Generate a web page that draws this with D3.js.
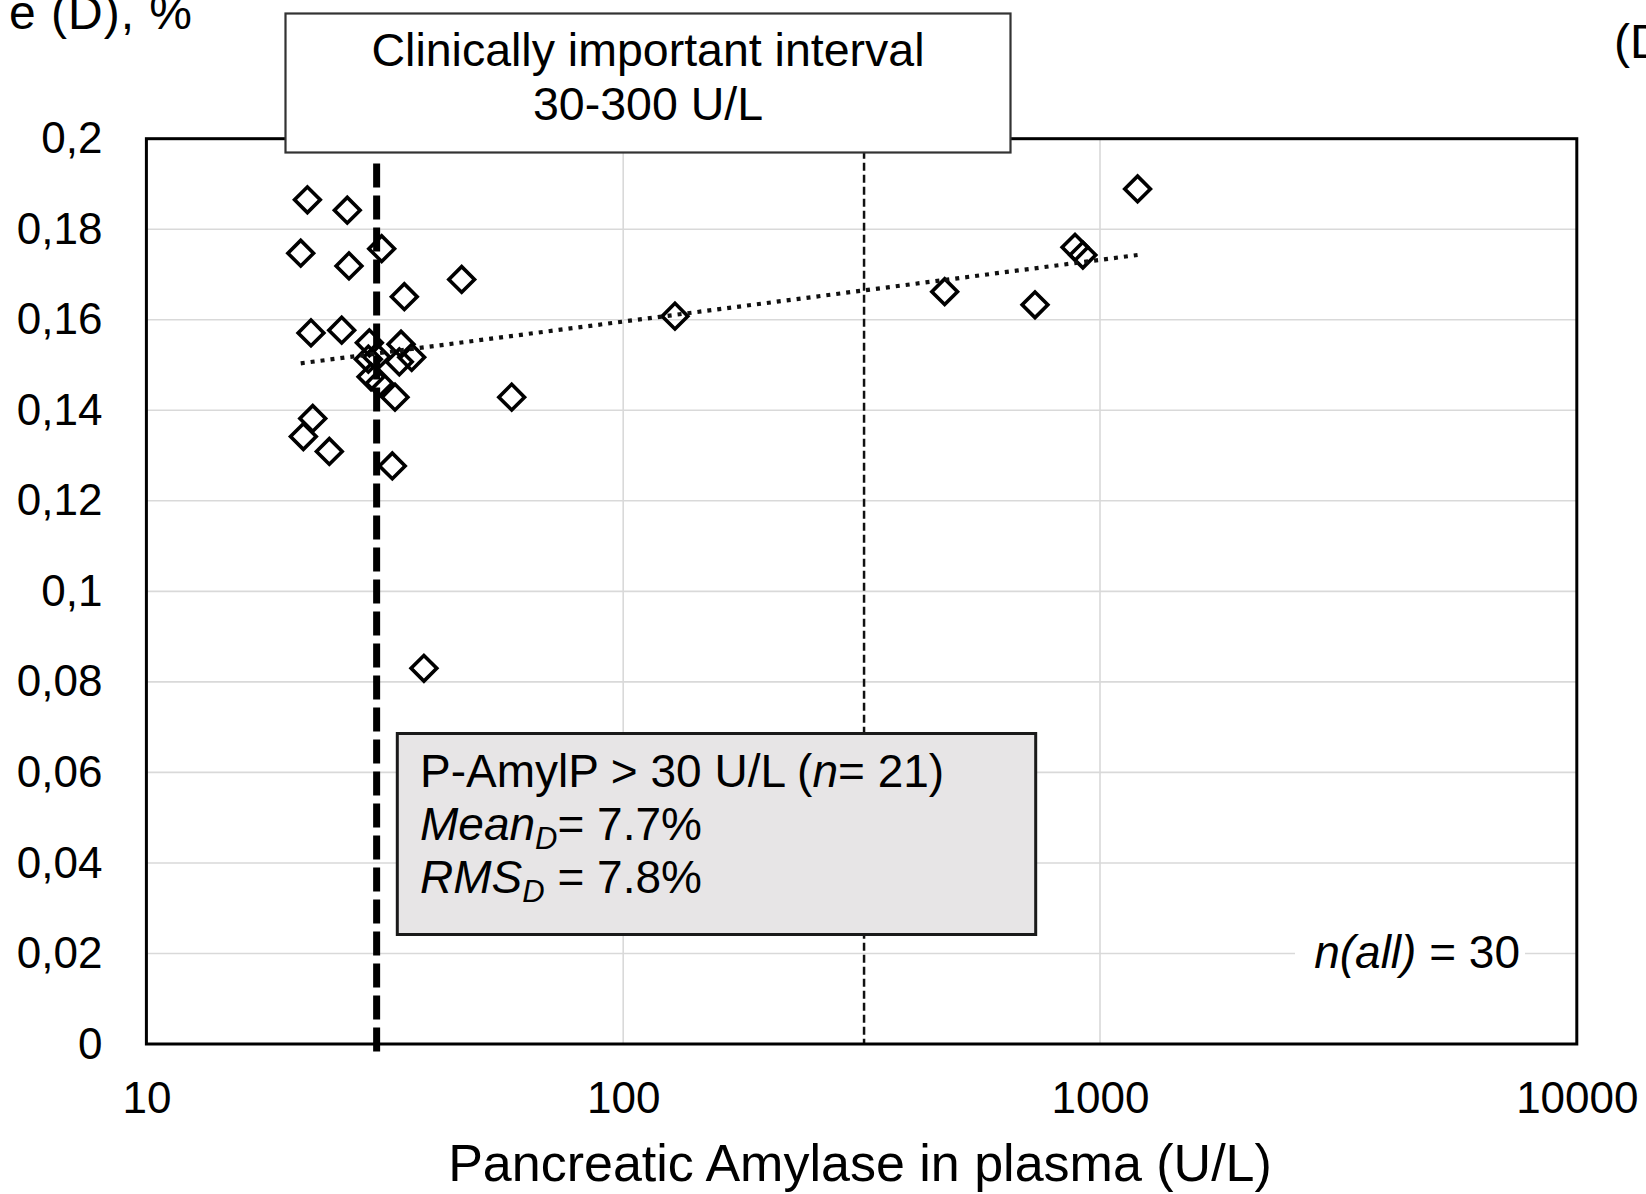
<!DOCTYPE html>
<html>
<head>
<meta charset="utf-8">
<script src="https://cdn.jsdelivr.net/npm/d3@7"></script>
<style>
  body { margin: 0; background: #fff; }
  svg { display: block; }
  text { font-family: "Liberation Sans", Arial, sans-serif; fill: #000; }
</style>
</head>
<body>
<svg id="chart" width="1646" height="1194"></svg>
<script>
// Pancreatic amylase in plasma (U/L) for each sample
const amylase = [21.76, 26.38, 21.07, 26.60, 31.15, 34.75, 45.84, 22.14, 25.68, 29.35,
                 34.20, 29.21, 33.92, 36.01, 29.59, 30.80, 33.22, 58.36, 22.33, 21.34,
                 24.19, 32.79, 30.41, 38.2, 128.4, 472.3, 730.6, 886.3, 920.6, 1199];
// Relative difference D for each sample
const difference = [0.1865, 0.1842, 0.1747, 0.1719, 0.1757, 0.1651, 0.1689, 0.1571, 0.1577, 0.1549,
                    0.1546, 0.1513, 0.1507, 0.1517, 0.1474, 0.1460, 0.1429, 0.1429, 0.1382, 0.1342,
                    0.1309, 0.1277, 0.1518, 0.0830, 0.1608, 0.1662, 0.1633, 0.1760, 0.1743, 0.1889];

const xTicks = [10, 100, 1000, 10000];
const yTicks = [0, 0.02, 0.04, 0.06, 0.08, 0.1, 0.12, 0.14, 0.16, 0.18, 0.2];
const xGrid = [100, 1000];
// limits of the clinically important interval as drawn (lower, upper)
const intervalLimits = [30.4, 320];

const points = amylase.map((a, i) => ({ x: a, y: difference[i] }));

const svg = d3.select("#chart");
const plotLeft = 146.4, plotRight = 1576.8, plotTop = 138.7, plotBottom = 1044;

const x = d3.scaleLog().domain([10, 10000]).range([plotLeft, plotRight]);
const y = d3.scaleLinear().domain([0, 0.2]).range([plotBottom, plotTop]);

// grid
const grid = svg.append("g").attr("stroke", "#d9d9d9").attr("stroke-width", 1.6);
grid.selectAll("line.h").data(yTicks.filter(v => v > 0 && v < 0.2)).join("line")
  .attr("class", "h")
  .attr("x1", plotLeft).attr("x2", plotRight)
  .attr("y1", d => y(d)).attr("y2", d => y(d));
grid.selectAll("line.v").data(xGrid).join("line")
  .attr("class", "v")
  .attr("x1", d => x(d)).attr("x2", d => x(d))
  .attr("y1", plotTop).attr("y2", plotBottom);

// axes
const fmtY = v => String(+v.toFixed(2)).replace(".", ",");
const yAxis = svg.append("g").attr("transform", `translate(${plotLeft},0)`)
  .call(d3.axisLeft(y).tickValues(yTicks).tickSize(0).tickPadding(44).tickFormat(fmtY));
yAxis.select(".domain").remove();
yAxis.selectAll("text").attr("font-size", 44).attr("font-family", "Liberation Sans, Arial, sans-serif").attr("fill", "#000");

const xAxis = svg.append("g").attr("transform", `translate(0,${plotBottom})`)
  .call(d3.axisBottom(x).tickValues(xTicks).tickSize(0).tickPadding(38).tickFormat(d3.format("d")));
xAxis.select(".domain").remove();
xAxis.selectAll("text").attr("font-size", 44).attr("font-family", "Liberation Sans, Arial, sans-serif").attr("fill", "#000");

// n(all) label with white backing over the grid
svg.append("rect").attr("x", 1295).attr("y", 935).attr("width", 230).attr("height", 40).attr("fill", "#fff");
const nAll = svg.append("text").attr("x", 1520).attr("y", 968).attr("text-anchor", "end").attr("font-size", 46);
nAll.append("tspan").attr("font-style", "italic").text("n(all)");
nAll.append("tspan").text(" = 30");

// data points: open diamonds
const diamond = d3.symbol().type(d3.symbolSquare).size(330);
svg.append("g").selectAll("path").data(points).join("path")
  .attr("d", diamond)
  .attr("transform", d => `translate(${x(d.x)},${y(d.y)}) rotate(45)`)
  .attr("fill", "none").attr("stroke", "#000").attr("stroke-width", 3.6);

// logarithmic trend line (least squares of D on log10 amylase)
const lx = points.map(p => Math.log10(p.x));
const mx = d3.mean(lx), my = d3.mean(points, p => p.y);
const slope = d3.sum(points, (p, i) => (lx[i] - mx) * (p.y - my)) / d3.sum(lx, v => (v - mx) ** 2);
const icpt = my - slope * mx;
const [xmin, xmax] = d3.extent(amylase);
const trend = [xmin, xmax].map(v => ({ x: v, y: icpt + slope * Math.log10(v) }));
svg.append("path")
  .attr("d", d3.line().x(d => x(d.x)).y(d => y(d.y))(trend))
  .attr("fill", "none").attr("stroke", "#111").attr("stroke-width", 4.2)
  .attr("stroke-dasharray", "4 6");

// interval limits
svg.append("line")
  .attr("x1", x(intervalLimits[1])).attr("x2", x(intervalLimits[1]))
  .attr("y1", y(0.2)).attr("y2", y(0))
  .attr("stroke", "#111").attr("stroke-width", 2.5).attr("stroke-dasharray", "8 4");
svg.append("line")
  .attr("x1", x(intervalLimits[0])).attr("x2", x(intervalLimits[0]))
  .attr("y1", y(0.1945)).attr("y2", y(-0.0025))
  .attr("stroke", "#000").attr("stroke-width", 7).attr("stroke-dasharray", "24 8");

// plot frame
svg.append("rect").attr("x", plotLeft).attr("y", plotTop)
  .attr("width", plotRight - plotLeft).attr("height", plotBottom - plotTop)
  .attr("fill", "none").attr("stroke", "#000").attr("stroke-width", 3);

// summary box
svg.append("rect").attr("x", 397.3).attr("y", 733.5).attr("width", 638.4).attr("height", 201)
  .attr("fill", "#e7e5e6").attr("stroke", "#1a1a1a").attr("stroke-width", 3);
const s1 = svg.append("text").attr("x", 420).attr("y", 787).attr("font-size", 46);
s1.append("tspan").text("P-AmylP > 30 U/L (");
s1.append("tspan").attr("font-style", "italic").text("n");
s1.append("tspan").text("= 21)");
const s2 = svg.append("text").attr("x", 420).attr("y", 840).attr("font-size", 46);
s2.append("tspan").attr("font-style", "italic").text("Mean");
s2.append("tspan").attr("font-style", "italic").attr("font-size", 31).attr("dy", 9).text("D");
s2.append("tspan").attr("dy", -9).text("= 7.7%");
const s3 = svg.append("text").attr("x", 420).attr("y", 893).attr("font-size", 46);
s3.append("tspan").attr("font-style", "italic").text("RMS");
s3.append("tspan").attr("font-style", "italic").attr("font-size", 31).attr("dy", 9).text("D");
s3.append("tspan").attr("dy", -9).text(" = 7.8%");

// interval caption box
svg.append("rect").attr("x", 285.5).attr("y", 13.5).attr("width", 725).attr("height", 139)
  .attr("fill", "#fff").attr("stroke", "#333").attr("stroke-width", 2.2);
svg.append("text").attr("x", 648).attr("y", 66).attr("text-anchor", "middle").attr("font-size", 46.5)
  .text("Clinically important interval");
svg.append("text").attr("x", 648).attr("y", 120).attr("text-anchor", "middle").attr("font-size", 46.5)
  .text("30-300 U/L");

// axis titles and panel label
svg.append("text").attr("x", 860).attr("y", 1181).attr("text-anchor", "middle").attr("font-size", 52)
  .text("Pancreatic Amylase in plasma (U/L)");
svg.append("text").attr("x", 193).attr("y", 29).attr("text-anchor", "end").attr("font-size", 48)
  .attr("letter-spacing", 1).text("e (D), %");
svg.append("text").attr("x", 1614).attr("y", 58).attr("font-size", 48).text("(D)");
</script>
</body>
</html>
